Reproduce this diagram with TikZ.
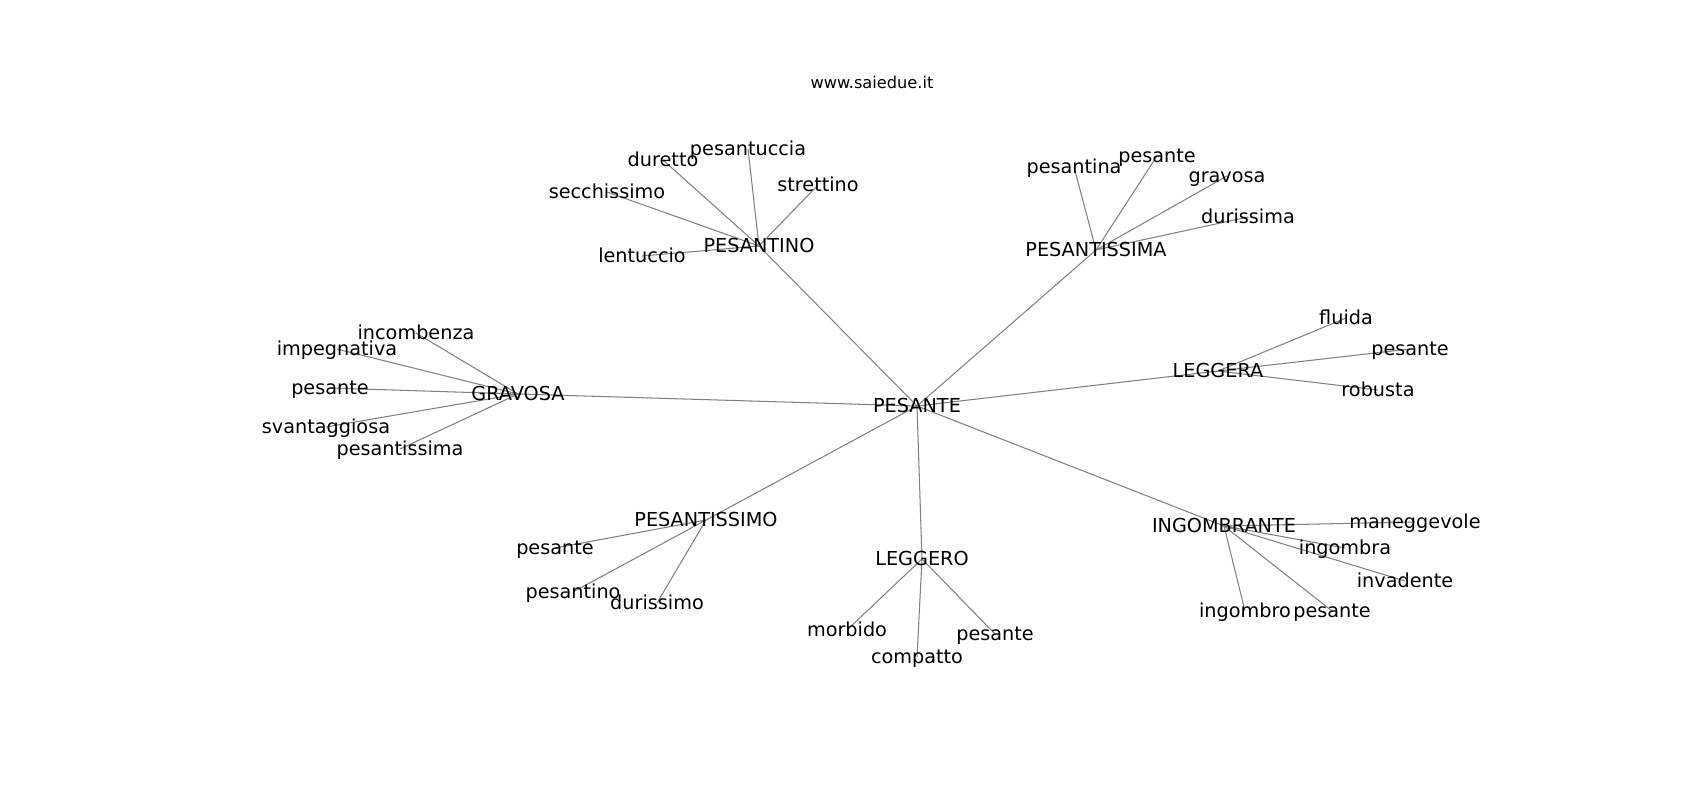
\documentclass[tikz,border=0pt]{standalone}
\usepackage{fontspec}
\setmainfont{DejaVu Sans}
\usetikzlibrary{backgrounds}

\tikzset{
	word/.style={inner sep=0pt, text height=10pt, text depth=0pt, font=\fontsize{13.9}{16}\selectfont},
	link/.style={draw=gray, line width=0.75pt},
}

\begin{document}
\begin{tikzpicture}[x=0.01in, y=-0.01in]
	\useasboundingbox (0,0) rectangle (1700,800);
	\node [inner sep=0pt, text height=8.5pt, text depth=0pt, font=\fontsize{11.7}{14}\selectfont] (t) at (872,83) {www.saiedue.it};
	%
	\node [word] (c0) at (917,406) {PESANTE};
	\node [word] (c1) at (759,246) {PESANTINO};
	\node [word] (c2) at (1096,250) {PESANTISSIMA};
	\node [word] (c3) at (518,394) {GRAVOSA};
	\node [word] (c4) at (1218,371) {LEGGERA};
	\node [word] (c5) at (1224,526) {INGOMBRANTE};
	\node [word] (c6) at (922,559) {LEGGERO};
	\node [word] (c7) at (706,520) {PESANTISSIMO};
	%
	\node [word] (v11) at (663,160) {duretto};
	\node [word] (v12) at (748,149) {pesantuccia};
	\node [word] (v13) at (607,192) {secchissimo};
	\node [word] (v14) at (818,185) {strettino};
	\node [word] (v15) at (642,256) {lentuccio};
	%
	\node [word] (v21) at (1074,167) {pesantina};
	\node [word] (v22) at (1157,156) {pesante};
	\node [word] (v23) at (1227,176) {gravosa};
	\node [word] (v24) at (1248,217) {durissima};
	%
	\node [word] (v31) at (416,333) {incombenza};
	\node [word] (v32) at (337,349) {impegnativa};
	\node [word] (v33) at (330,388) {pesante};
	\node [word] (v34) at (326,427) {svantaggiosa};
	\node [word] (v35) at (400,449) {pesantissima};
	%
	\node [word] (v41) at (1346,318) {fluida};
	\node [word] (v42) at (1410,349) {pesante};
	\node [word] (v43) at (1378,390) {robusta};
	%
	\node [word] (v51) at (1415,522) {maneggevole};
	\node [word] (v52) at (1345,548) {ingombra};
	\node [word] (v53) at (1405,581) {invadente};
	\node [word] (v54) at (1245,611) {ingombro};
	\node [word] (v55) at (1332,611) {pesante};
	%
	\node [word] (v61) at (847,630) {morbido};
	\node [word] (v62) at (917,657) {compatto};
	\node [word] (v63) at (995,634) {pesante};
	%
	\node [word] (v71) at (555,548) {pesante};
	\node [word] (v72) at (573,592) {pesantino};
	\node [word] (v73) at (657,603) {durissimo};
	%
	\begin{scope}[on background layer]
		\draw [link] (c1.center) -- (c0.center) -- (c2.center);
		\draw [link] (c3.center) -- (c0.center) -- (c4.center);
		\draw [link] (c5.center) -- (c0.center) -- (c6.center);
		\draw [link] (c0.center) -- (c7.center);
		\draw [link] (v11.center) -- (c1.center) -- (v12.center);
		\draw [link] (v13.center) -- (c1.center) -- (v14.center);
		\draw [link] (v15.center) -- (c1.center);
		\draw [link] (v21.center) -- (c2.center) -- (v22.center);
		\draw [link] (v23.center) -- (c2.center) -- (v24.center);
		\draw [link] (v31.center) -- (c3.center) -- (v32.center);
		\draw [link] (v33.center) -- (c3.center) -- (v34.center);
		\draw [link] (v35.center) -- (c3.center);
		\draw [link] (v41.center) -- (c4.center) -- (v42.center);
		\draw [link] (v43.center) -- (c4.center);
		\draw [link] (v51.center) -- (c5.center) -- (v52.center);
		\draw [link] (v53.center) -- (c5.center) -- (v54.center);
		\draw [link] (v55.center) -- (c5.center);
		\draw [link] (v61.center) -- (c6.center) -- (v62.center);
		\draw [link] (v63.center) -- (c6.center);
		\draw [link] (v71.center) -- (c7.center) -- (v72.center);
		\draw [link] (v73.center) -- (c7.center);
	\end{scope}
\end{tikzpicture}
\end{document}
